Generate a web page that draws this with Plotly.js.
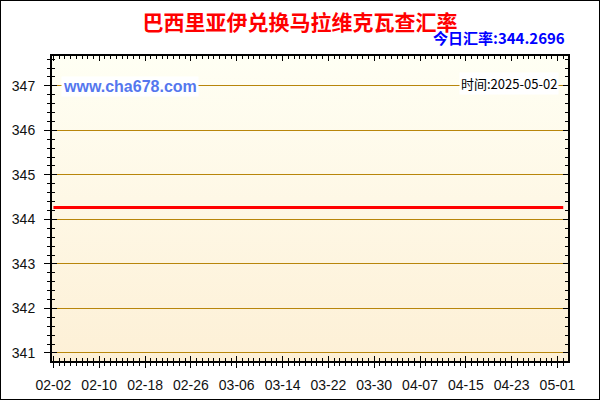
<!DOCTYPE html>
<html>
<head>
<meta charset="utf-8">
<script src="https://cdn.plot.ly/plotly-3.0.1.min.js"></script>
<style>
  body { margin: 0; background: #fff; }
  #plot { width: 598px; height: 398px; border: 1px solid #000; }
</style>
</head>
<body>
<div id="plot"></div>
<script>
// exchange rate readings (flat over the period)
const dates = ['2025-02-02', '2025-02-10', '2025-02-18', '2025-02-26', '2025-03-06', '2025-03-14',
    '2025-03-22', '2025-03-30', '2025-04-07', '2025-04-15', '2025-04-23', '2025-05-01', '2025-05-02'];
const rates = [344.2696, 344.2696, 344.2696, 344.2696, 344.2696, 344.2696,
    344.2696, 344.2696, 344.2696, 344.2696, 344.2696, 344.2696, 344.2696];

const titleText = '巴西里亚伊兑换马拉维克瓦查汇率';
const todayRate = '今日汇率:344.2696';
const siteText = 'www.cha678.com';
const timeText = '时间:2025-05-02';

const xRange = ['2025-02-01 18:00', '2025-05-02 20:00'];
const yRange = [340.82, 347.67];

const DAY = 86400000;
const tickFont = { family: 'Liberation Sans, Arial, sans-serif', size: 14, color: '#111' };

// gradient for the plot background
const bgSvg = '<svg xmlns="http://www.w3.org/2000/svg" width="10" height="100" preserveAspectRatio="none">' +
    '<defs><linearGradient id="g" x1="0" y1="0" x2="0" y2="1">' +
    '<stop offset="0" stop-color="#FFFFF4"/><stop offset="1" stop-color="#FDF0D6"/>' +
    '</linearGradient></defs><rect width="10" height="100" fill="url(#g)"/></svg>';
const bgUrl = 'data:image/svg+xml;base64,' + btoa(bgSvg);

const rateTrace = {
    x: dates,
    y: rates,
    mode: 'lines',
    type: 'scatter',
    line: { color: '#FF0000', width: 3 },
    hoverinfo: 'skip'
};

// invisible trace so the inner-tick axes get drawn
const dummy = {
    x: [dates[0]],
    y: [rates[0]],
    xaxis: 'x2',
    yaxis: 'y2',
    mode: 'markers',
    marker: { opacity: 0 },
    hoverinfo: 'skip',
    showlegend: false
};

const layout = {
    width: 598,
    height: 398,
    margin: { l: 51, r: 31, t: 55, b: 38 },
    paper_bgcolor: '#FFFFFF',
    plot_bgcolor: 'rgba(0,0,0,0)',
    showlegend: false,
    title: {
        text: '<b>' + titleText + '</b>',
        font: { family: 'Noto Sans CJK SC', size: 21, color: '#FF0000' },
        x: 0.5, xanchor: 'center', y: 0.945, yanchor: 'middle'
    },
    xaxis: {
        type: 'date',
        range: xRange,
        tick0: '2025-02-02',
        dtick: 8 * DAY,
        tickformat: '%m-%d',
        ticks: 'outside', ticklen: 5, tickwidth: 1, tickcolor: '#000',
        minor: { dtick: DAY, tick0: '2025-02-02', ticks: 'outside', ticklen: 3, tickcolor: '#000', showgrid: false },
        showline: true, linecolor: '#000', linewidth: 2,
        showgrid: false, zeroline: false,
        tickfont: tickFont,
        ticklabelstandoff: 5
    },
    yaxis: {
        range: yRange,
        dtick: 1, tick0: 341,
        ticks: 'outside', ticklen: 6, tickwidth: 1, tickcolor: '#000',
        minor: { dtick: 0.2, tick0: 341, ticks: 'outside', ticklen: 3, tickcolor: '#000', showgrid: false },
        showline: true, linecolor: '#000', linewidth: 2,
        showgrid: true, gridcolor: '#B8860B', gridwidth: 1,
        zeroline: false,
        tickfont: tickFont,
        ticklabelstandoff: 6
    },
    xaxis2: {
        type: 'date', overlaying: 'x', range: xRange,
        tick0: '2025-02-02', dtick: 8 * DAY,
        ticks: 'inside', ticklen: 5, tickcolor: '#000', mirror: 'ticks',
        minor: { dtick: DAY, tick0: '2025-02-02', ticks: 'inside', ticklen: 3, tickcolor: '#000' },
        showline: true, linecolor: '#000', linewidth: 2,
        showticklabels: false, showgrid: false, zeroline: false
    },
    yaxis2: {
        overlaying: 'y', range: yRange,
        dtick: 1, tick0: 341,
        ticks: 'inside', ticklen: 5, tickcolor: '#000', mirror: 'ticks',
        minor: { dtick: 0.2, tick0: 341, ticks: 'inside', ticklen: 3, tickcolor: '#000' },
        showline: true, linecolor: '#000', linewidth: 2,
        showticklabels: false, showgrid: false, zeroline: false
    },
    images: [{
        source: bgUrl, xref: 'paper', yref: 'paper',
        x: 0, y: 1, sizex: 1, sizey: 1, xanchor: 'left', yanchor: 'top',
        sizing: 'stretch', layer: 'below'
    }],
    annotations: [
        {
            text: '<b>' + todayRate + '</b>',
            xref: 'paper', yref: 'paper', x: 0.998, y: 1.06,
            xanchor: 'right', yanchor: 'middle', showarrow: false,
            font: { family: 'Noto Sans CJK SC', size: 15, color: '#0000FF' }
        },
        {
            text: '<b>' + siteText + '</b>',
            xref: 'paper', yref: 'paper', x: 0.018, y: 0.9,
            xanchor: 'left', yanchor: 'middle', showarrow: false,
            bgcolor: '#FFFFFF', borderpad: 1,
            font: { family: 'Liberation Sans, Arial, sans-serif', size: 16, color: '#5577EE' }
        },
        {
            text: timeText,
            xref: 'paper', yref: 'paper', x: 0.982, y: 0.91,
            xanchor: 'right', yanchor: 'middle', showarrow: false,
            bgcolor: '#FFFFFF', borderpad: 1,
            font: { family: 'Noto Sans CJK SC', size: 13, color: '#000' }
        }
    ]
};

Plotly.newPlot('plot', [rateTrace, dummy], layout, { displayModeBar: false, staticPlot: true });
</script>
</body>
</html>
